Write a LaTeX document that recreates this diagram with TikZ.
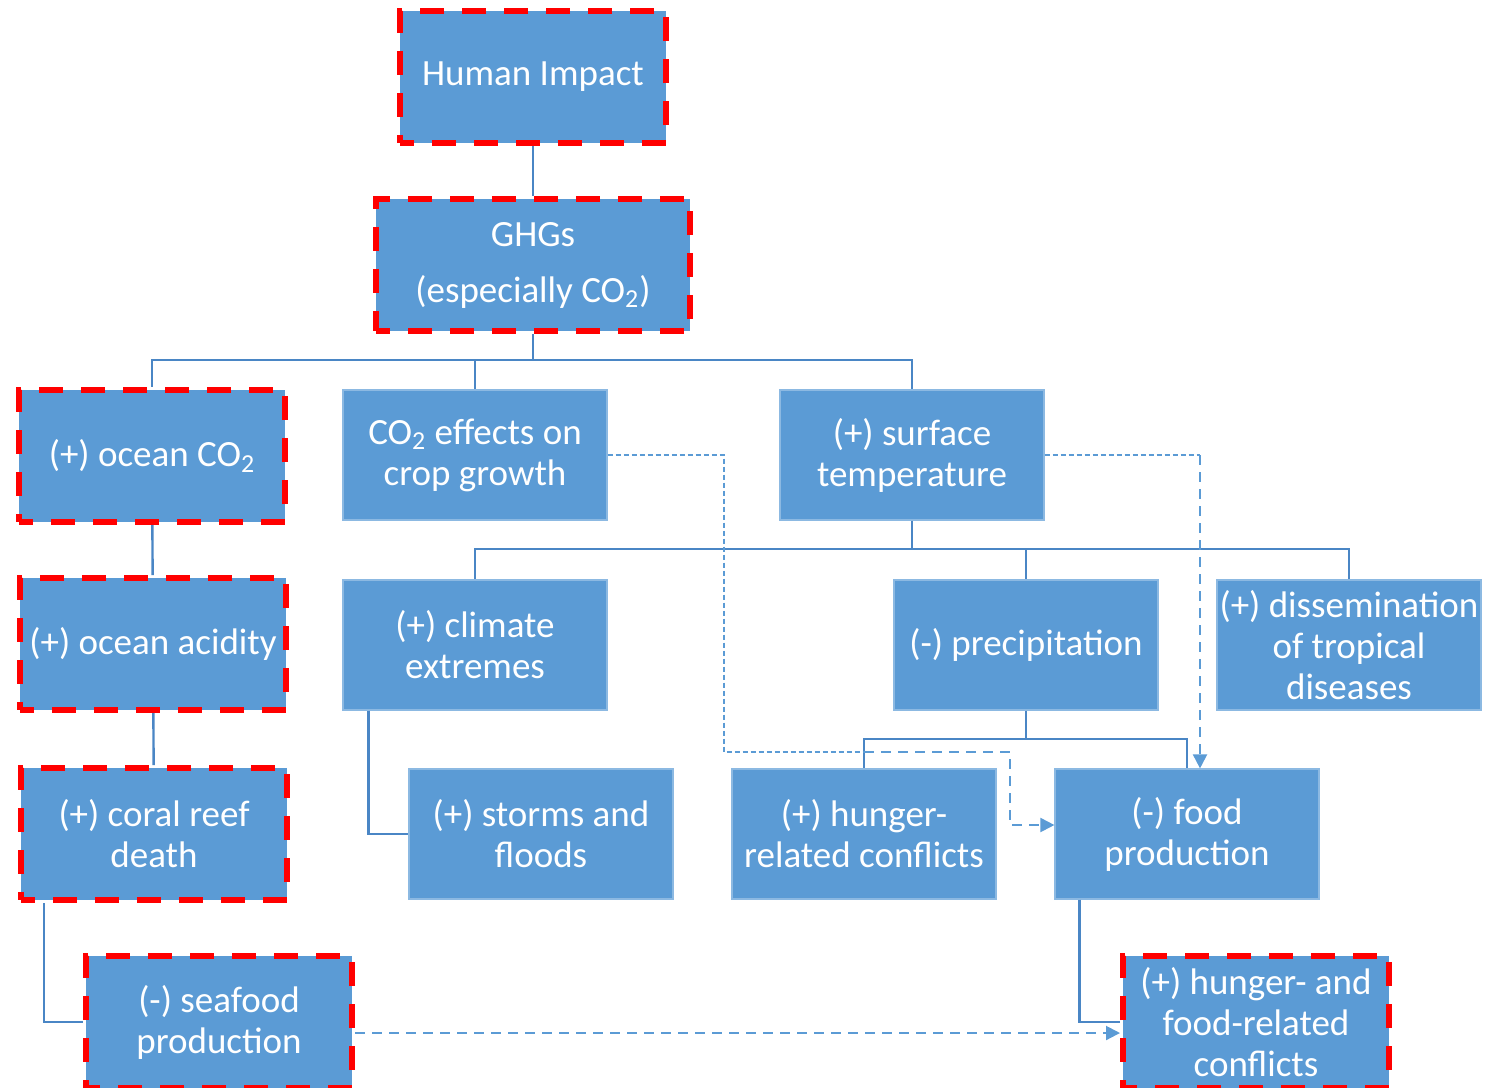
\documentclass[tikz,border=0pt]{standalone}
\usepackage{fontspec}
\setmainfont{Carlito}
\usetikzlibrary{arrows.meta}
\definecolor{boxblue}{HTML}{5B9BD5}
\definecolor{linkblue}{HTML}{4A86C5}
\definecolor{markred}{HTML}{FF0000}

\begin{document}
\begin{tikzpicture}[x=0.5pt,y=-0.5pt,
	box/.style={fill=boxblue,draw=boxblue!70!white,line width=0.6pt,text=white,align=center,
		minimum width=132pt,minimum height=65pt,inner sep=1pt,font=\fontsize{18.5}{20.5}\selectfont},
	flagged/.style={box,draw=markred,line width=3pt,dash pattern=on 12pt off 9pt,dash phase=5pt,
		minimum width=133pt,minimum height=66pt},
	link/.style={linkblue,line width=1.2pt},
	hintthin/.style={boxblue,line width=0.6pt,dash pattern=on 2.5pt off 1.5pt},
	hint/.style={boxblue,line width=1pt,dash pattern=on 5pt off 3.5pt,-{Triangle[length=7pt,width=7pt]}}]
	\useasboundingbox (0,0) rectangle (1486,1087);

	\node[flagged] (human) at (533,77) {Human Impact};
	\node[flagged,minimum width=157pt,font=\fontsize{18.5}{28}\selectfont] (ghg) at (533,265) {GHGs\\(especially CO\textsubscript{2})};
	\node[flagged] (oceanco2) at (152,456) {(+) ocean CO\textsubscript{2}};
	\node[box] (cropco2) at (475,455) {CO\textsubscript{2} effects on\\crop growth};
	\node[box] (surface) at (912,455) {(+) surface\\temperature};
	\node[flagged] (acidity) at (153,644) {(+) ocean acidity};
	\node[box] (extremes) at (475,645) {(+) climate\\extremes};
	\node[box] (precip) at (1026,645) {(-) precipitation};
	\node[box] (disease) at (1349,645) {(+) dissemination\\of tropical\\diseases};
	\node[flagged] (coral) at (154,834) {(+) coral reef\\death};
	\node[box] (storms) at (541,834) {(+) storms and\\floods};
	\node[box] (hungerconf) at (864,834) {(+) hunger-\\related conflicts};
	\node[box] (food) at (1187,834) {(-) food\\production};
	\node[flagged] (seafood) at (219,1022) {(-) seafood\\production};
	\node[flagged] (conflicts) at (1256,1022) {(+) hunger- and\\food-related\\conflicts};

	\coordinate (forkghg) at (533,360);
	\coordinate (forktemp) at (912,549);
	\coordinate (forkrain) at (1026,739);
	\coordinate (bendcrop) at (724,752);
	\coordinate (bendmid) at (864,752);
	\coordinate (bendfood) at (1010,825);
	\coordinate (bendtemp) at (1200,455);

	\draw[link] (human) -- (ghg);
	\draw[link] (ghg) -- (forkghg) -| (oceanco2);
	\draw[link] (forkghg) -| (cropco2);
	\draw[link] (forkghg) -| (surface);
	\draw[link] (surface) -- (forktemp) -| (extremes);
	\draw[link] (forktemp) -| (precip);
	\draw[link] (forktemp) -| (disease);
	\draw[link] (oceanco2) -- (acidity);
	\draw[link] (acidity) -- (coral);
	\draw[link] ([xshift=13pt]coral.south west) |- (seafood.west);
	\draw[link] ([xshift=13pt]extremes.south west) |- (storms.west);
	\draw[link] (precip) -- (forkrain) -| (hungerconf);
	\draw[link] (forkrain) -| (food);
	\draw[link] ([xshift=12.5pt]food.south west) |- (conflicts.west);

	% dashed influences
	\draw[hintthin] (cropco2.east) -| (bendcrop) -- (bendmid);
	\draw[hint] (bendmid) -| (bendfood) -- (bendfood -| food.west);
	\draw[hintthin] (surface.east) -- (bendtemp);
	\draw[hint] (bendtemp) -- (bendtemp |- food.north);
	\draw[hint] ([yshift=-5.5pt]seafood.east) -- ([yshift=-5.5pt]conflicts.west);
\end{tikzpicture}
\end{document}
